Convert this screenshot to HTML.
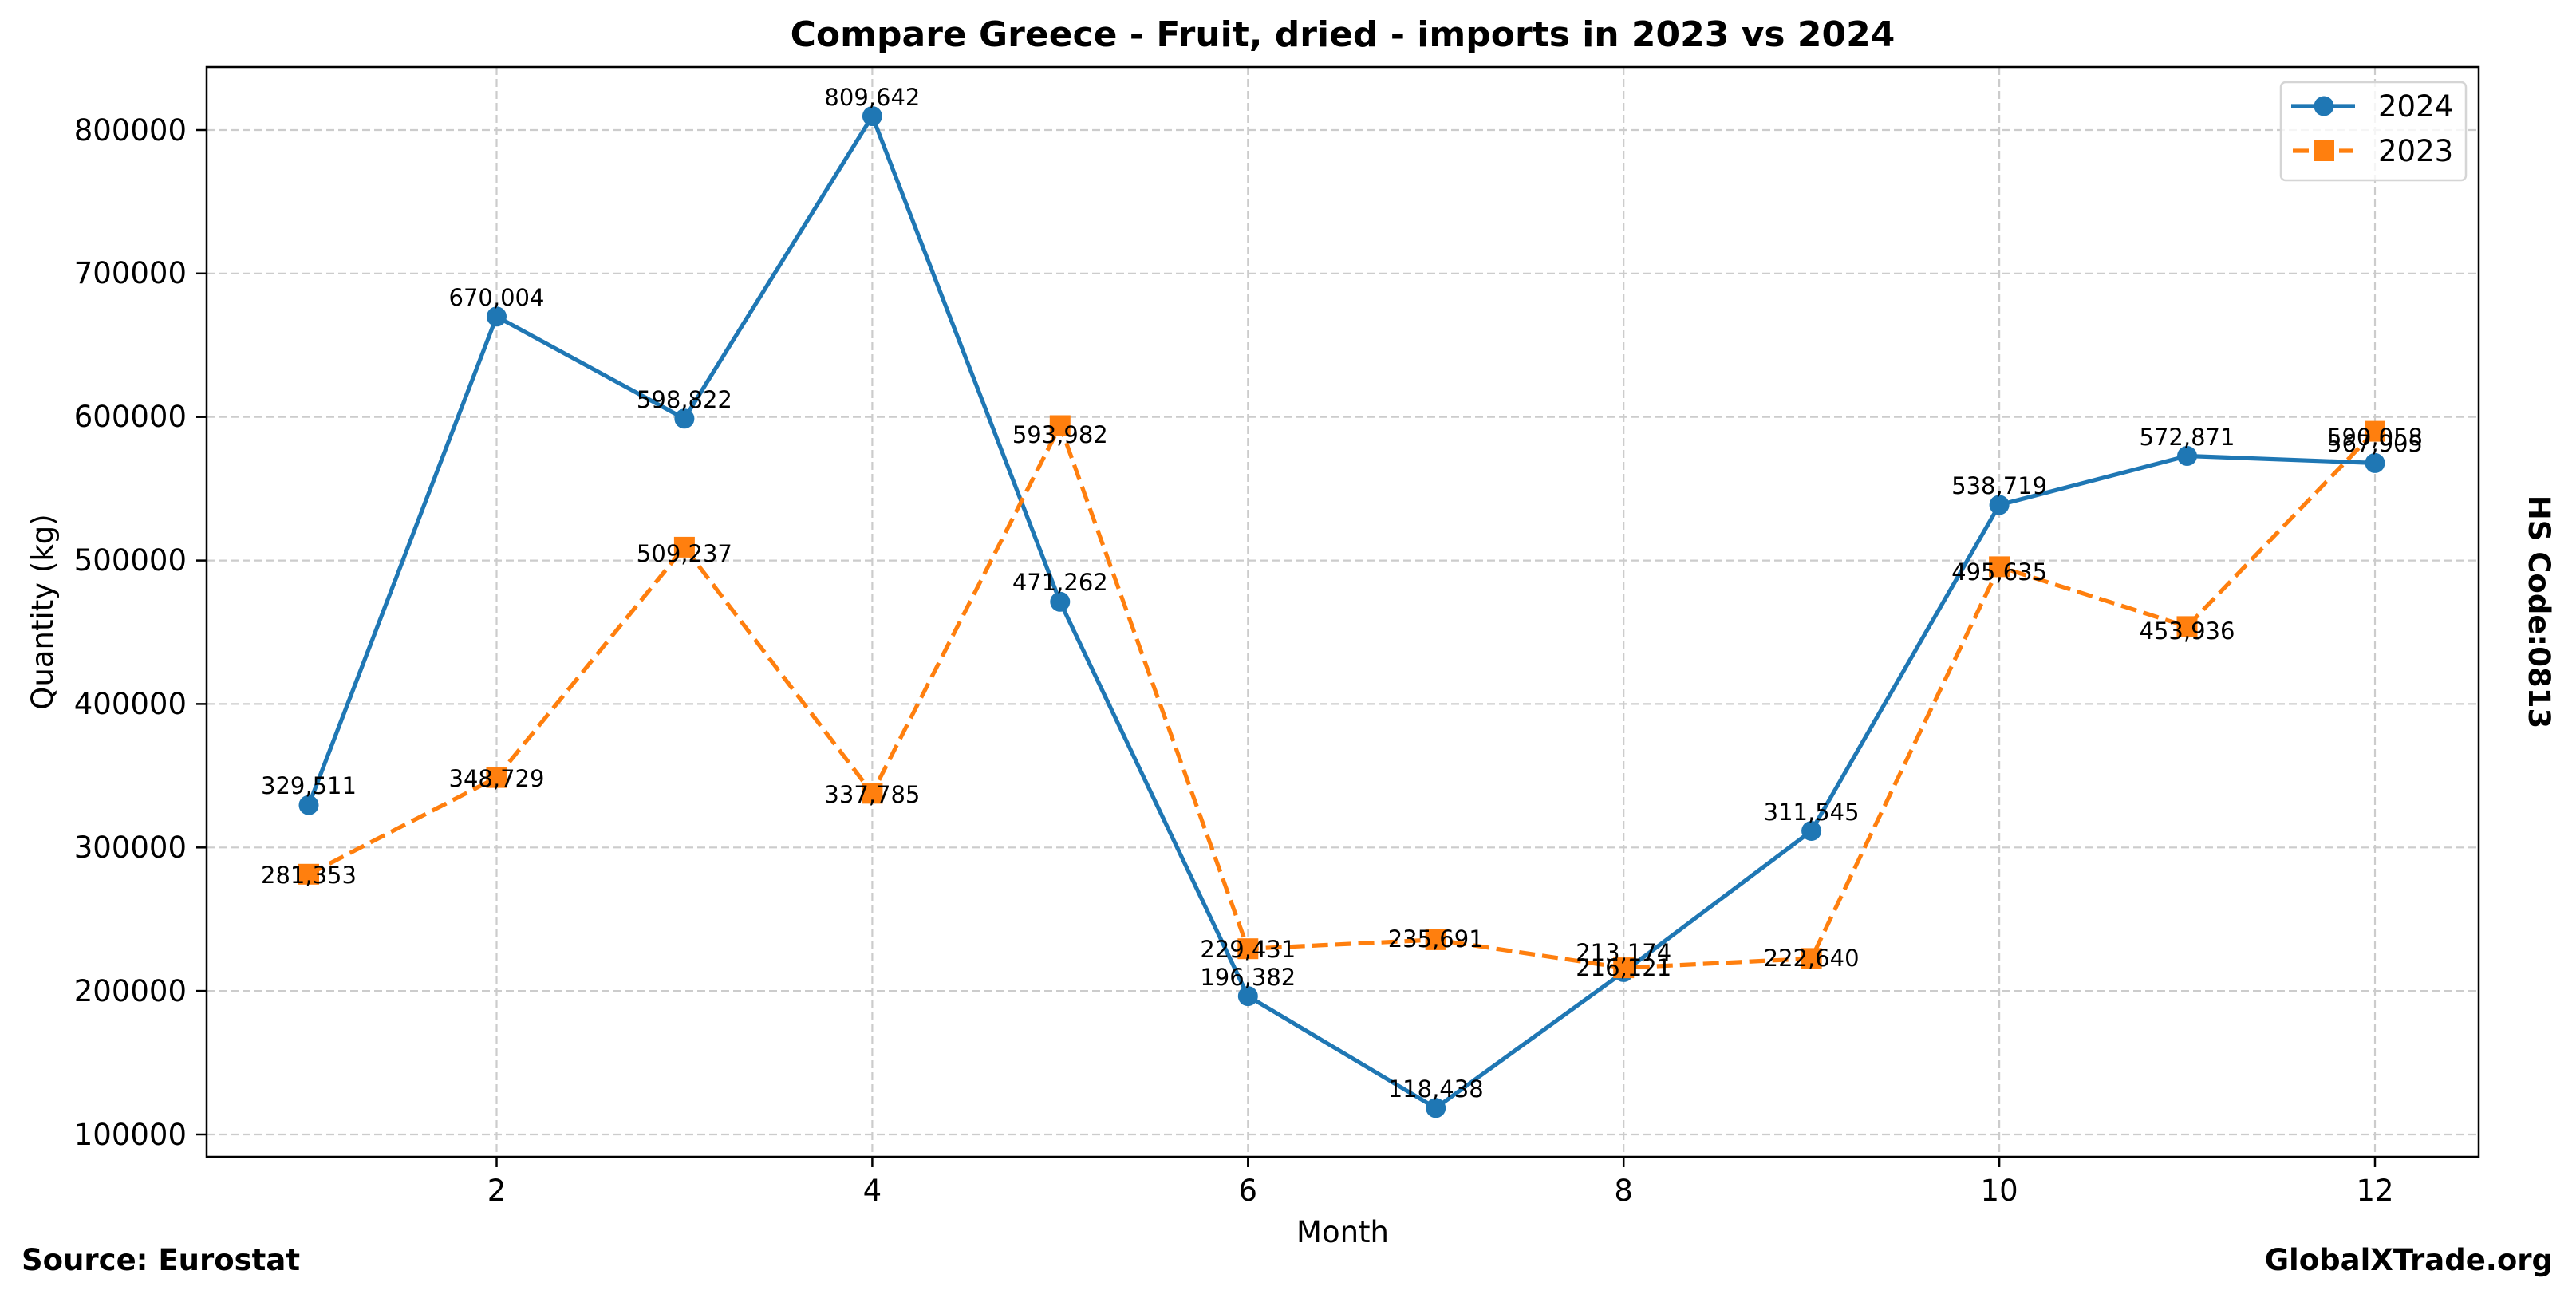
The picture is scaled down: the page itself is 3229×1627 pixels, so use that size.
<!DOCTYPE html>
<html><head><meta charset="utf-8"><style>html,body{margin:0;padding:0;background:#fff}svg{display:block}</style></head>
<body>
<svg width="3229" height="1627" viewBox="0 0 3229 1627" xmlns="http://www.w3.org/2000/svg" font-family="DejaVu Sans, Liberation Sans, sans-serif">
<rect width="3229" height="1627" fill="#fff"/>
<g stroke="#cccccc" stroke-width="2.2" stroke-dasharray="10,5" fill="none">
<line x1="259" x2="3107" y1="1422" y2="1422"/><line x1="259" x2="3107" y1="1242.1" y2="1242.1"/><line x1="259" x2="3107" y1="1062.3" y2="1062.3"/><line x1="259" x2="3107" y1="882.4" y2="882.4"/><line x1="259" x2="3107" y1="702.6" y2="702.6"/><line x1="259" x2="3107" y1="522.7" y2="522.7"/><line x1="259" x2="3107" y1="342.8" y2="342.8"/><line x1="259" x2="3107" y1="163" y2="163"/>
<line y1="84" y2="1450" x1="622.5" x2="622.5"/><line y1="84" y2="1450" x1="1093.4" x2="1093.4"/><line y1="84" y2="1450" x1="1564.3" x2="1564.3"/><line y1="84" y2="1450" x1="2035.2" x2="2035.2"/><line y1="84" y2="1450" x1="2506.1" x2="2506.1"/><line y1="84" y2="1450" x1="2977" x2="2977"/>
</g>
<polyline fill="none" stroke="#1f77b4" stroke-width="5.2" stroke-linejoin="round" points="387,1009.2 622.5,396.8 857.9,524.8 1093.4,145.6 1328.8,754.3 1564.3,1248.6 1799.7,1388.8 2035.2,1218.4 2270.6,1041.5 2506.1,632.9 2741.5,571.5 2977,580.4"/>
<g fill="#1f77b4">
<circle cx="387" cy="1009.2" r="12.5"/><circle cx="622.5" cy="396.8" r="12.5"/><circle cx="857.9" cy="524.8" r="12.5"/><circle cx="1093.4" cy="145.6" r="12.5"/><circle cx="1328.8" cy="754.3" r="12.5"/><circle cx="1564.3" cy="1248.6" r="12.5"/><circle cx="1799.7" cy="1388.8" r="12.5"/><circle cx="2035.2" cy="1218.4" r="12.5"/><circle cx="2270.6" cy="1041.5" r="12.5"/><circle cx="2506.1" cy="632.9" r="12.5"/><circle cx="2741.5" cy="571.5" r="12.5"/><circle cx="2977" cy="580.4" r="12.5"/>
</g>
<polyline fill="none" stroke="#ff7f0e" stroke-width="5.2" stroke-dasharray="20,9" points="387,1095.8 622.5,974.6 857.9,685.9 1093.4,994.3 1328.8,533.5 1564.3,1189.2 1799.7,1177.9 2035.2,1213.1 2270.6,1201.4 2506.1,710.4 2741.5,785.4 2977,540.6"/>
<g fill="#ff7f0e">
<rect x="374" y="1082.8" width="26" height="26"/><rect x="609.5" y="961.6" width="26" height="26"/><rect x="844.9" y="672.9" width="26" height="26"/><rect x="1080.4" y="981.3" width="26" height="26"/><rect x="1315.8" y="520.5" width="26" height="26"/><rect x="1551.3" y="1176.2" width="26" height="26"/><rect x="1786.7" y="1164.9" width="26" height="26"/><rect x="2022.2" y="1200.1" width="26" height="26"/><rect x="2257.6" y="1188.4" width="26" height="26"/><rect x="2493.1" y="697.4" width="26" height="26"/><rect x="2728.5" y="772.4" width="26" height="26"/><rect x="2964" y="527.6" width="26" height="26"/>
</g>
<g font-size="29" text-anchor="middle" fill="#000">
<text x="387" y="995">329,511</text><text x="622.5" y="383">670,004</text><text x="857.9" y="511">598,822</text><text x="1093.4" y="132">809,642</text><text x="1328.8" y="740">471,262</text><text x="1564.3" y="1235">196,382</text><text x="1799.7" y="1375">118,438</text><text x="2035.2" y="1204">213,174</text><text x="2270.6" y="1028">311,545</text><text x="2506.1" y="619">538,719</text><text x="2741.5" y="558">572,871</text><text x="2977" y="566">567,905</text>
<text x="387" y="1107">281,353</text><text x="622.5" y="986">348,729</text><text x="857.9" y="704">509,237</text><text x="1093.4" y="1006">337,785</text><text x="1328.8" y="555">593,982</text><text x="1564.3" y="1200">229,431</text><text x="1799.7" y="1187">235,691</text><text x="2035.2" y="1223">216,121</text><text x="2270.6" y="1211">222,640</text><text x="2506.1" y="727">495,635</text><text x="2741.5" y="801">453,936</text><text x="2977" y="558">590,058</text>
</g>
<rect x="259" y="84" width="2848" height="1366" fill="none" stroke="#000" stroke-width="2.5"/>
<g stroke="#000" stroke-width="2.5">
<line x1="246" x2="259" y1="1422" y2="1422"/><line x1="246" x2="259" y1="1242.1" y2="1242.1"/><line x1="246" x2="259" y1="1062.3" y2="1062.3"/><line x1="246" x2="259" y1="882.4" y2="882.4"/><line x1="246" x2="259" y1="702.6" y2="702.6"/><line x1="246" x2="259" y1="522.7" y2="522.7"/><line x1="246" x2="259" y1="342.8" y2="342.8"/><line x1="246" x2="259" y1="163" y2="163"/>
<line y1="1450" y2="1463" x1="622.5" x2="622.5"/><line y1="1450" y2="1463" x1="1093.4" x2="1093.4"/><line y1="1450" y2="1463" x1="1564.3" x2="1564.3"/><line y1="1450" y2="1463" x1="2035.2" x2="2035.2"/><line y1="1450" y2="1463" x1="2506.1" x2="2506.1"/><line y1="1450" y2="1463" x1="2977" x2="2977"/>
</g>
<g font-size="37" text-anchor="end">
<text x="234" y="1435">100000</text><text x="234" y="1255">200000</text><text x="234" y="1075">300000</text><text x="234" y="895">400000</text><text x="234" y="715">500000</text><text x="234" y="535">600000</text><text x="234" y="355">700000</text><text x="234" y="176">800000</text>
</g>
<g font-size="37" text-anchor="middle">
<text x="622.5" y="1505">2</text><text x="1093.4" y="1505">4</text><text x="1564.3" y="1505">6</text><text x="2035.2" y="1505">8</text><text x="2506.1" y="1505">10</text><text x="2977" y="1505">12</text>
<text x="1683" y="1557">Month</text>
<text transform="translate(66,767) rotate(-90)">Quantity (kg)</text>
<text x="1683" y="58" font-size="44" font-weight="bold">Compare Greece - Fruit, dried - imports in 2023 vs 2024</text>
<text transform="translate(3170,767) rotate(90)" font-weight="bold">HS Code:0813</text>
</g>
<text x="27" y="1592" font-size="37" font-weight="bold">Source: Eurostat</text>
<text x="3200" y="1592" font-size="37" font-weight="bold" text-anchor="end">GlobalXTrade.org</text>
<rect x="2859" y="103" width="232" height="123" rx="6" fill="#fff" fill-opacity="0.8" stroke="#d5d5d5" stroke-width="2.5"/>
<line x1="2872" x2="2952" y1="133" y2="133" stroke="#1f77b4" stroke-width="5.2"/>
<circle cx="2913" cy="133" r="12.5" fill="#1f77b4"/>
<line x1="2874" x2="2950" y1="189" y2="189" stroke="#ff7f0e" stroke-width="5.2" stroke-dasharray="20,9"/>
<rect x="2900" y="176" width="26" height="26" fill="#ff7f0e"/>
<text x="2981" y="146" font-size="37">2024</text>
<text x="2981" y="202" font-size="37">2023</text>
</svg>
</body></html>
